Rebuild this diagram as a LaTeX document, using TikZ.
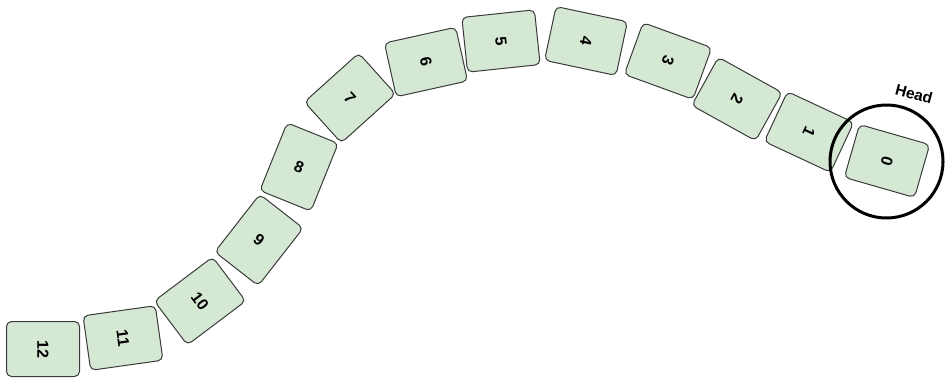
\documentclass[tikz,border=0pt]{standalone}
\usepackage{fontspec}
\usepackage{graphicx}
\setmainfont{Liberation Sans}
\definecolor{tilefill}{HTML}{D5E8D4}
\definecolor{tileline}{HTML}{3A3A3A}
\begin{document}
\begin{tikzpicture}[x=1pt,y=1pt,
  tile/.style={draw=tileline, fill=tilefill, line width=1pt, rounded corners=5pt,
    minimum width=73pt, minimum height=55pt, inner sep=0pt,
    font=\fontsize{16}{16}\selectfont\bfseries},
  headring/.style={draw=black, line width=3pt, circle, minimum size=113pt, inner sep=0pt}]
\useasboundingbox (0,0) rectangle (945,-378);
\node[tile, rotate=0]    (t12) at (43,-349)  {\rotatebox{-90}{12}};
\node[tile, rotate=8]    (t11) at (123,-338) {\rotatebox{-90}{11}};
\node[tile, rotate=37]   (t10) at (200,-301) {\rotatebox{-90}{10}};
\node[tile, rotate=52]   (t9)  at (259,-240) {\rotatebox{-90}{9}};
\node[tile, rotate=68]   (t8)  at (299,-167) {\rotatebox{-90}{8}};
\node[tile, rotate=42]   (t7)  at (350,-98)  {\rotatebox{-90}{7}};
\node[tile, rotate=12.5] (t6)  at (426,-62)  {\rotatebox{-90}{6}};
\node[tile, rotate=6]    (t5)  at (501,-41)  {\rotatebox{-90}{5}};
\node[tile, rotate=-12]  (t4)  at (586,-41)  {\rotatebox{-90}{4}};
\node[tile, rotate=-20]  (t3)  at (668,-61)  {\rotatebox{-90}{3}};
\node[tile, rotate=-29]  (t2)  at (737,-99)  {\rotatebox{-90}{2}};
\node[tile, rotate=-25]  (t1)  at (809,-132) {\rotatebox{-90}{1}};
\node[tile, rotate=-16]  (t0)  at (887,-161) {\rotatebox{-90}{0}};
\node[headring] (ring) at (886.5,-161.5) {};
\node[rotate=-15, font=\fontsize{15.5}{15.5}\selectfont\bfseries, inner sep=0pt] (head) at (914,-94) {Head};
\end{tikzpicture}
\end{document}
